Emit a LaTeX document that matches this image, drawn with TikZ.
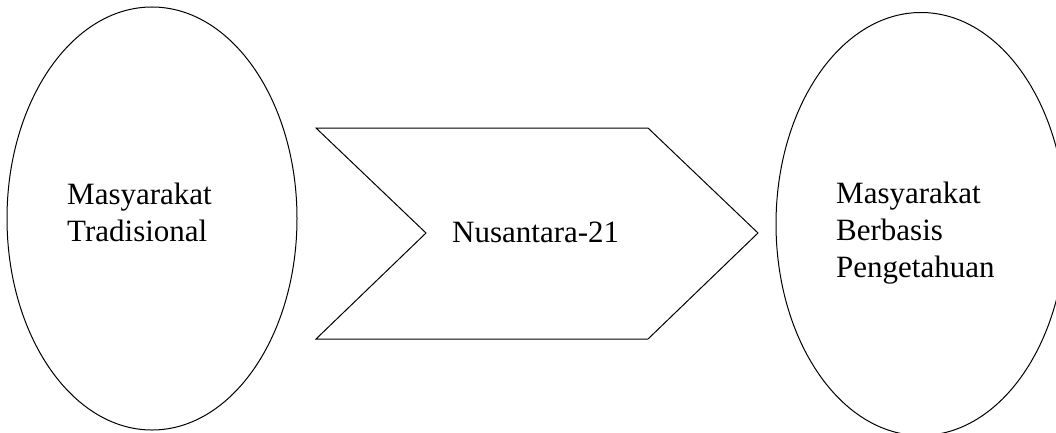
\documentclass[tikz,border=0pt]{standalone}
\usepackage{fontspec}
\setmainfont{Liberation Serif}
\usetikzlibrary{shapes.geometric}
\begin{document}
\begin{tikzpicture}[x=1pt,y=-1pt,
  outline/.style={draw=black,line width=1pt},
  blob/.style={outline,ellipse,inner sep=0pt,minimum width=290pt,minimum height=423pt},
  label/.style={anchor=base west,inner sep=0pt,align=left,
    font=\fontsize{31pt}{37pt}\selectfont}]
  \useasboundingbox (0,0) rectangle (1056,433);
  \clip (0,0) rectangle (1056,433);
  \fill[white] (0,0) rectangle (1056,433);

  % the two societies
  \node[blob] (trad) at (152,218.5) {};
  \node[blob] (know) at (921,224) {};

  % the chevron in between
  \coordinate (c1) at (316,128);
  \coordinate (c2) at (648,128);
  \coordinate (c3) at (758,233);
  \coordinate (c4) at (648,339);
  \coordinate (c5) at (316,339);
  \coordinate (c6) at (426,233);
  \draw[outline,line join=miter] (c1) -- (c2) -- (c3) -- (c4) -- (c5) -- (c6) -- cycle;

  % labels (base = baseline of the last line)
  \node[label] (tradtext) at (67,241) {Masyarakat\\Tradisional};
  \node[label] (nustext) at (452,242) {Nusantara-21};
  \node[label] (knowtext) at (836,277) {Masyarakat\\Berbasis\\Pengetahuan};
\end{tikzpicture}
\end{document}
